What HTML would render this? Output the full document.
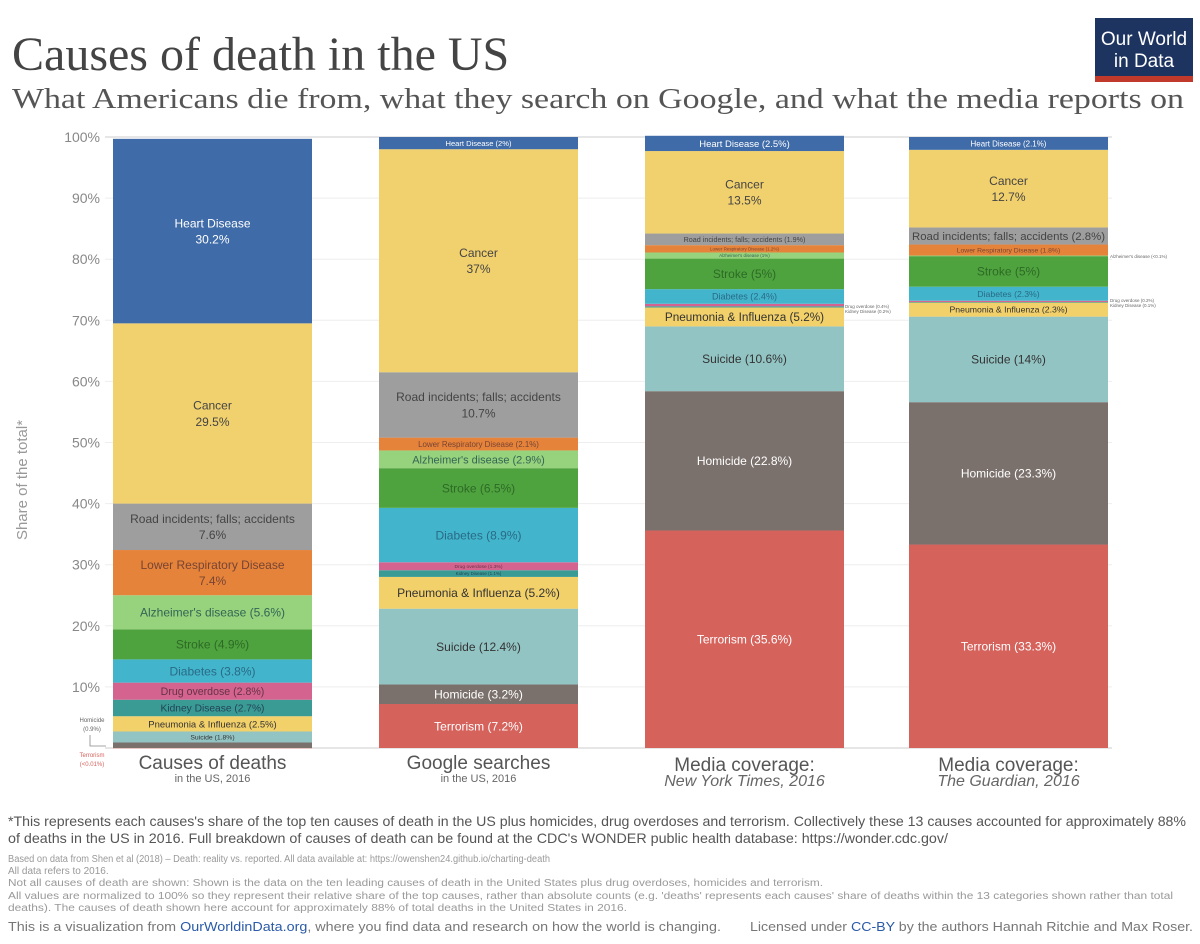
<!DOCTYPE html>
<html><head><meta charset="utf-8"><style>
html,body{margin:0;padding:0;background:#fff;width:1200px;height:944px;overflow:hidden}
svg{display:block}
</style></head><body>
<svg id="chart" width="1200" height="944" xmlns="http://www.w3.org/2000/svg" font-family="'Liberation Sans', sans-serif">
<text x="12" y="70" font-family="'Liberation Serif', serif" font-size="48" fill="#444">Causes of death in the US</text>
<text x="12" y="108" font-family="'Liberation Serif', serif" font-size="29" fill="#555" textLength="1172" lengthAdjust="spacingAndGlyphs">What Americans die from, what they search on Google, and what the media reports on</text>
<g>
<rect x="1095" y="18" width="98" height="64" fill="#1d3461"/>
<rect x="1095" y="76" width="98" height="6" fill="#c0392b"/>
<text x="1144" y="45" font-size="19" fill="#fff" text-anchor="middle">Our World</text>
<text x="1144" y="67" font-size="19" fill="#fff" text-anchor="middle">in Data</text>
</g>
<g id="grid"></g><g id="bars"></g><g id="ann"></g>
<text transform="translate(27,480) rotate(-90)" font-size="15" fill="#999" text-anchor="middle">Share of the total*</text>
<g fill="#555">
<text x="8" y="826" font-size="14" textLength="1178" lengthAdjust="spacingAndGlyphs">*This represents each causes's share of the top ten causes of death in the US plus homicides, drug overdoses and terrorism. Collectively these 13 causes accounted for approximately 88%</text>
<text x="8" y="843" font-size="14" textLength="940" lengthAdjust="spacingAndGlyphs">of deaths in the US in 2016. Full breakdown of causes of death can be found at the CDC's WONDER public health database: https://wonder.cdc.gov/</text>
</g>
<g fill="#999" font-size="10">
<text x="8" y="862" textLength="542" lengthAdjust="spacingAndGlyphs">Based on data from Shen et al (2018) – Death: reality vs. reported. All data available at: https://owenshen24.github.io/charting-death</text>
<text x="8" y="874">All data refers to 2016.</text>
<text x="8" y="886" textLength="815" lengthAdjust="spacingAndGlyphs">Not all causes of death are shown: Shown is the data on the ten leading causes of death in the United States plus drug overdoses, homicides and terrorism.</text>
<text x="8" y="899" textLength="1165" lengthAdjust="spacingAndGlyphs">All values are normalized to 100% so they represent their relative share of the top causes, rather than absolute counts (e.g. 'deaths' represents each causes' share of deaths within the 13 categories shown rather than total</text>
<text x="8" y="911" textLength="619" lengthAdjust="spacingAndGlyphs">deaths). The causes of death shown here account for approximately 88% of total deaths in the United States in 2016.</text>
</g>
<text x="8" y="931" font-size="13" fill="#777" textLength="713" lengthAdjust="spacingAndGlyphs">This is a visualization from <tspan fill="#2a5aa8">OurWorldinData.org</tspan>, where you find data and research on how the world is changing.</text>
<text x="750" y="931" font-size="13" fill="#777" textLength="443" lengthAdjust="spacingAndGlyphs">Licensed under <tspan fill="#2a5aa8">CC-BY</tspan> by the authors Hannah Ritchie and Max Roser.</text>
</svg>
<script>
const causes=["Terrorism","Homicide","Suicide","Pneumonia & Influenza","Kidney Disease","Drug overdose","Diabetes","Stroke","Alzheimer's disease","Lower Respiratory Disease","Road incidents; falls; accidents","Cancer","Heart Disease"];
const colors=["#d6625c","#7b716c","#93c4c4","#f2d06a","#3a9b95","#d4638f","#42b5cc","#4fa33e","#97d27d","#e6833a","#9e9e9e","#f1d06e","#3f6ba8"];
const textColors=["#fff","#fff","#333","#333","#245","#634","#2a6a86","#2d6a26","#365","#743","#444","#444","#fff"];
const deaths=[0.001,0.9,1.8,2.5,2.7,2.8,3.8,4.9,5.6,7.4,7.6,29.5,30.2];
const google=[7.2,3.2,12.4,5.2,1.1,1.3,8.9,6.5,2.9,2.1,10.7,36.5,2];
const nyt=[35.6,22.8,10.6,3.1,0.2,0.4,2.4,5,1,1.2,1.9,13.5,2.5];
const guardian=[33.3,23.3,14,2.3,0.1,0.2,2.3,5,0.1,1.8,2.8,12.7,2.1];
const deathLabels=["","","Suicide (1.8%)","Pneumonia & Influenza (2.5%)","Kidney Disease (2.7%)","Drug overdose (2.8%)","Diabetes (3.8%)","Stroke (4.9%)","Alzheimer's disease (5.6%)","Lower Respiratory Disease|7.4%","Road incidents; falls; accidents|7.6%","Cancer|29.5%","Heart Disease|30.2%"];
const googleLabels=["Terrorism (7.2%)","Homicide (3.2%)","Suicide (12.4%)","Pneumonia & Influenza (5.2%)","Kidney Disease (1.1%)","Drug overdose (1.3%)","Diabetes (8.9%)","Stroke (6.5%)","Alzheimer's disease (2.9%)","Lower Respiratory Disease (2.1%)","Road incidents; falls; accidents|10.7%","Cancer|37%","Heart Disease (2%)"];
const nytLabels=["Terrorism (35.6%)","Homicide (22.8%)","Suicide (10.6%)","Pneumonia & Influenza (5.2%)","","","Diabetes (2.4%)","Stroke (5%)","Alzheimer's disease (1%)","Lower Respiratory Disease (1.2%)","Road incidents; falls; accidents (1.9%)","Cancer|13.5%","Heart Disease (2.5%)"];
const guardianLabels=["Terrorism (33.3%)","Homicide (23.3%)","Suicide (14%)","Pneumonia & Influenza (2.3%)","","","Diabetes (2.3%)","Stroke (5%)","","Lower Respiratory Disease (1.8%)","Road incidents; falls; accidents (2.8%)","Cancer|12.7%","Heart Disease (2.1%)"];
const yTicks=[10,20,30,40,50,60,70,80,90,100];
const colTitles=["Causes of deaths","Google searches","Media coverage:","Media coverage:"];
const colSubs=["in the US, 2016","in the US, 2016","New York Times, 2016","The Guardian, 2016"];

const NS="http://www.w3.org/2000/svg";
const y=v=>748-v*6.11;
const colX=[113,379,645,909],colW=199;
function mk(t,a,p){const e=document.createElementNS(NS,t);for(const k in a)e.setAttribute(k,a[k]);p.appendChild(e);return e;}
const grid=document.getElementById('grid'),bars=document.getElementById('bars'),ann=document.getElementById('ann');
yTicks.forEach(t=>{
  const l=mk('line',{x1:105,x2:1112,y1:y(t),y2:y(t),stroke:t===100?'#ccc':'#eee','stroke-width':1},grid);
  
  
  const tx=mk('text',{x:100,y:y(t)+5,'font-size':14,fill:'#888','text-anchor':'end'},grid);
  tx.textContent=t+'%';
  
  
});
mk('line',{x1:105,x2:1112,y1:y(0),y2:y(0),stroke:'#ccc'},grid);
const series=[deaths,google,nyt,guardian],labels=[deathLabels,googleLabels,nytLabels,guardianLabels];
const names=['deaths','google','nyt','guardian'];
series.forEach((vals,ci)=>{
  let cum=0;const x=colX[ci];
  vals.forEach((v,i)=>{
    const y0=y(cum),y1=y(cum+v);cum+=v;
    const h=y0-y1;
    const r=mk('rect',{x:x,y:y1,width:colW,height:Math.max(h,0.3),fill:colors[i]},bars);
    
    
    const lab=labels[ci][i];if(!lab)return;
    const parts=lab.split('|');
    let fs=Math.min(12,h*0.62);if(fs<4.5)fs=4.5;
    const cx=x+colW/2,cy=(y0+y1)/2;
    const t=mk('text',{x:cx,'font-size':fs,fill:textColors[i],'text-anchor':'middle'},bars);
    
    
    if(parts.length===1){t.setAttribute('y',cy+fs*0.36);t.textContent=parts[0];
      if(parts[0].length*fs*0.52>colW-6){t.setAttribute('textLength',colW-6);t.setAttribute('lengthAdjust','spacingAndGlyphs');}}
    else{parts.forEach((p,k)=>{const s=mk('tspan',{x:cx,y:cy+fs*0.36+(k-0.5)*fs*1.35},t);s.textContent=p;});}
  });
  const tt=mk('text',{x:x+colW/2,y:ci<2?769:771,'font-size':19,fill:'#555','text-anchor':'middle'},ann);
  tt.textContent=colTitles[ci];
  
  
  const st=mk('text',{x:x+colW/2,y:ci<2?782:786,'font-size':ci<2?11:16,fill:'#666','text-anchor':'middle','font-style':ci<2?'normal':'italic'},ann);
  st.textContent=colSubs[ci];
  
  
});
function note(x,yy,s,c,fs,anchor){const t=mk('text',{x:x,y:yy,'font-size':fs,fill:c,'text-anchor':anchor||'start'},ann);t.textContent=s;

}
note(92,722,'Homicide','#666',6,'middle');note(92,731,'(0.9%)','#666',6,'middle');
mk('path',{d:'M90 735 V746 H106',stroke:'#888',fill:'none','stroke-width':0.8},ann);
note(92,757,'Terrorism','#d6625c',6,'middle');note(92,766,'(<0.01%)','#d6625c',6,'middle');
note(845,308,'Drug overdose (0.4%)','#666',4.5);note(845,313,'Kidney Disease (0.2%)','#666',4.5);
note(1110,258,"Alzheimer's disease (<0.1%)",'#666',4.5);
note(1110,302,'Drug overdose (0.2%)','#666',4.5);note(1110,307,'Kidney Disease (0.1%)','#666',4.5);
</script>
</body></html>
